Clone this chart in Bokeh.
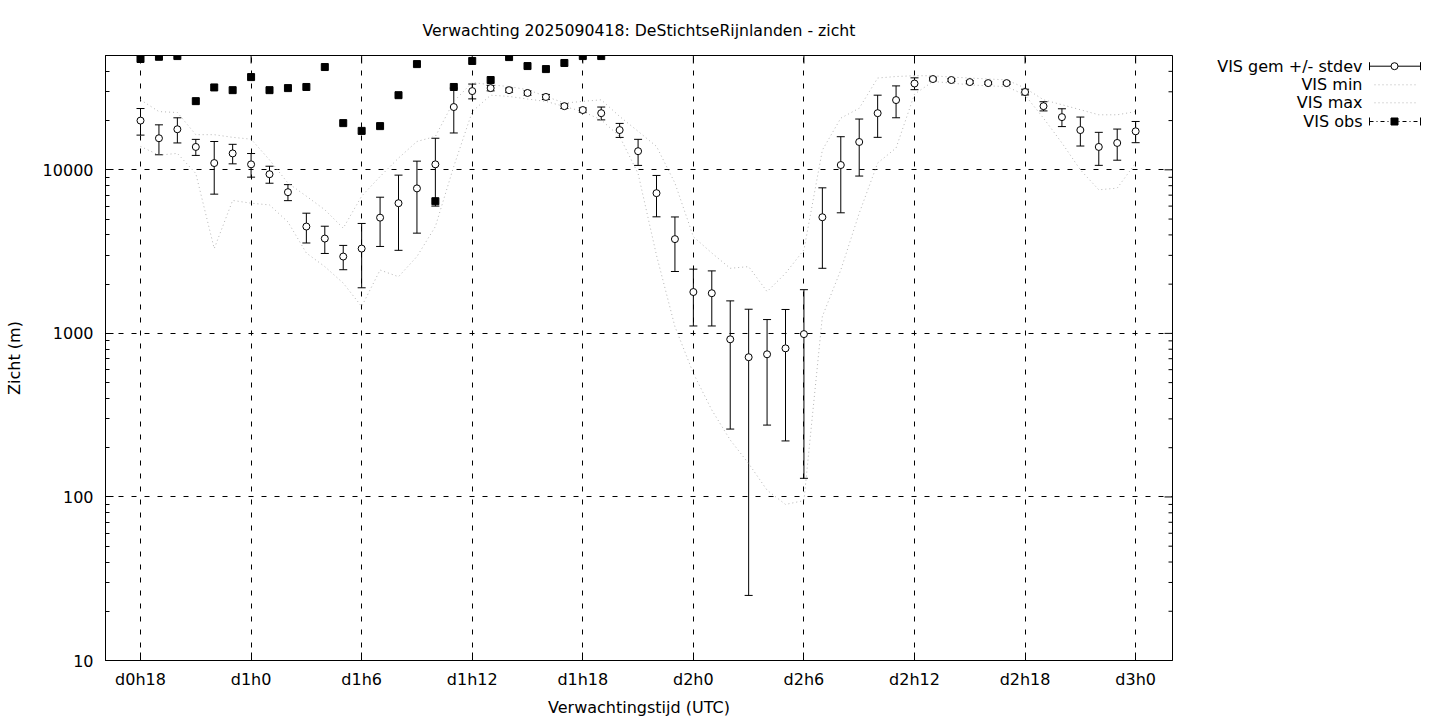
from bokeh.plotting import figure
from bokeh.models import (Range1d, FixedTicker, Whisker, TeeHead,
                          ColumnDataSource, NumeralTickFormatter)
from bokeh.layouts import row
from bokeh.embed import file_html
from bokeh.resources import INLINE
from bokeh.core.properties import value

FONT = "DejaVu Sans"
FS = "16px"

# ---------------- data ----------------
hours = list(range(18, 73))  # hours since d0h0
vis_mean = [20000, 15600, 17700, 13800, 11000, 12600, 10800, 9400, 7300, 4500,
            3800, 2950, 3300, 5100, 6250, 7700, 10800, 24200, 30300, 31600,
            30700, 29500, 27900, 24500, 23200, 22200, 17500, 13000, 7200, 3770,
            1790, 1760, 920, 715, 745, 810, 990, 5130, 10700, 14800,
            22200, 26700, 33700, 35900, 35400, 34400, 33900, 33900, 29900, 24500,
            21000, 17500, 13800, 14600, 17200]
vis_sd = [3700, 3240, 3100, 1550, 3900, 1720, 1780, 1120, 820, 930,
          720, 500, 1400, 1700, 3030, 3600, 4800, 7400, 3150, 1200,
          900, 900, 1000, 800, 700, 2000, 1720, 2360, 2040, 1380,
          680, 650, 660, 690, 470, 590, 860, 2630, 5240, 5640,
          6400, 5890, 2800, 900, 700, 700, 600, 600, 1200, 1580,
          2620, 3520, 3150, 3150, 2550]
vis_max = [26800, 22700, 22400, 16400, 16400, 15800, 15400, 11500, 8300, 6900,
           5700, 4400, 6900, 9100, 11800, 14900, 16000, 26200, 34200, 33100,
           32300, 30900, 28100, 25600, 26200, 26800, 21200, 17200, 13900, 8300,
           3900, 3100, 2500, 2560, 1800, 2330, 3240, 13200, 20700, 23800,
           36400, 37200, 37600, 37600, 36900, 36400, 35900, 35500, 31600, 26800,
           25000, 23300, 21700, 21700, 22700]
vis_min = [13900, 12300, 12600, 9500, 3300, 6500, 6250, 6100, 4800, 3100,
           2560, 2030, 1460, 2440, 2220, 2950, 4500, 10500, 22700, 28600,
           28100, 27100, 26200, 24400, 22700, 20200, 16000, 9500, 3000, 1100,
           570, 340, 223, 160, 110, 90, 95, 1270, 2440, 5430,
           11000, 13600, 29000, 34700, 33900, 33100, 32600, 32300, 28600, 20700,
           14600, 10000, 7550, 7730, 11000]
obs_hours = list(range(18, 44))
vis_obs = [47600, 49100, 49600, 26300, 31900, 30700, 36900, 30700, 31600, 32100,
           42500, 19300, 17300, 18500, 28600, 44300, 6430, 32100, 46300, 35400,
           48900, 43100, 41300, 45000, 49600, 49600]

tick_hours = [18, 24, 30, 36, 42, 48, 54, 60, 66, 72]
tick_labels = ["d0h18", "d1h0", "d1h6", "d1h12", "d1h18", "d2h0", "d2h6", "d2h12", "d2h18", "d3h0"]
y_ticks = [10, 100, 1000, 10000]
y_minor = [m * d for d in (10, 100, 1000, 10000) for m in range(2, 10)]

legend_labels = ["VIS gem +/- stdev", "VIS min", "VIS max", "VIS obs"]

X0, X1 = 16.1, 74
Y0, Y1 = 10, 50000

BT, BB = 55, 60      # top / bottom borders
H = 720
GRAY = "#b4b4b4"

# ---------------- main figure ----------------
p = figure(width=1188, height=H, y_axis_type="log",
           x_range=Range1d(X0, X1), y_range=Range1d(Y0, Y1),
           output_backend="svg", toolbar_location=None,
           min_border_left=105, min_border_right=16, min_border_top=BT, min_border_bottom=BB,
           title="Verwachting 2025090418: DeStichtseRijnlanden - zicht")
p.title.align = "center"
p.title.text_font = FONT
p.title.text_font_size = "15.7px"
p.title.text_font_style = "normal"
p.title.text_color = "black"
p.title.standoff = 31
p.outline_line_color = "black"
p.outline_line_alpha = 1
p.outline_line_width = 1
p.background_fill_color = "white"
p.border_fill_color = "white"

xticker = FixedTicker(ticks=tick_hours, minor_ticks=[])
yticker = FixedTicker(ticks=y_ticks, minor_ticks=y_minor)

xax = p.xaxis[0]
xax.ticker = xticker
xax.major_label_overrides = {h: l for h, l in zip(tick_hours, tick_labels)}
xax.axis_label = "Verwachtingstijd (UTC)"
yax = p.yaxis[0]
yax.ticker = yticker
yax.formatter = NumeralTickFormatter(format="0")
yax.axis_label = "Zicht (m)"

for ax in (xax, yax):
    ax.major_tick_in = 8
    ax.major_tick_out = 0
    ax.minor_tick_in = 4
    ax.minor_tick_out = 0
    ax.axis_line_color = "black"
    ax.major_tick_line_color = "black"
    ax.minor_tick_line_color = "black"
    ax.major_label_text_font = FONT
    ax.major_label_text_font_size = FS
    ax.major_label_text_color = "black"
    ax.axis_label_text_font = FONT
    ax.axis_label_text_font_size = FS
    ax.axis_label_text_font_style = "normal"
    ax.axis_label_text_color = "black"
xax.major_label_standoff = 9
xax.axis_label_standoff = 6
yax.major_label_standoff = 12
yax.axis_label_standoff = 16

p.xgrid.ticker = xticker
p.ygrid.ticker = yticker
for g in (p.xgrid, p.ygrid):
    g.grid_line_color = "black"
    g.grid_line_dash = "5 8"
    g.grid_line_width = 1
    g.grid_line_alpha = 1

# mirrored ticks on top and right frame edges (drawn inward, screen length)
p.ray(x=tick_hours, y=[Y1] * len(tick_hours), length=8, length_units="screen",
      angle=-90, angle_units="deg", line_color="black", line_width=1)
p.ray(x=[X1] * len(y_ticks), y=y_ticks, length=8, length_units="screen",
      angle=180, angle_units="deg", line_color="black", line_width=1)
p.ray(x=[X1] * len(y_minor), y=y_minor, length=4, length_units="screen",
      angle=180, angle_units="deg", line_color="black", line_width=1)

# min / max dotted lines
p.line(hours, vis_min, line_color=GRAY, line_dash="1 3", line_width=1)
p.line(hours, vis_max, line_color=GRAY, line_dash="1 3", line_width=1)

# mean +/- stdev error bars
src = ColumnDataSource(dict(
    x=hours,
    upper=[m + s for m, s in zip(vis_mean, vis_sd)],
    lower=[m - s for m, s in zip(vis_mean, vis_sd)],
))
wh = Whisker(base="x", upper="upper", lower="lower", source=src,
             line_color="black", line_width=1,
             upper_head=TeeHead(size=8, line_color="black", line_width=1),
             lower_head=TeeHead(size=8, line_color="black", line_width=1))
p.add_layout(wh)

# observations
p.scatter(obs_hours, vis_obs, marker="square", size=7, fill_color="black", line_color="black")
# mean points
p.scatter(hours, vis_mean, marker="circle", size=7, fill_color="white", line_color="black", line_width=1)

# ---------------- legend figure (gnuplot style: text then sample) ----------------
# frame of this figure is aligned with the main frame; y measured down from the frame top
LW = 244
FH = H - BT - BB
lf = figure(width=LW, height=H, x_range=Range1d(0, LW), y_range=Range1d(FH, 0),
            output_backend="svg", toolbar_location=None,
            min_border_left=0, min_border_right=0, min_border_top=BT, min_border_bottom=BB,
            x_axis_location=None, y_axis_location=None)
lf.grid.visible = False
lf.outline_line_color = None
lf.background_fill_color = "white"
lf.border_fill_color = "white"

ly = [v - BT for v in (65.7, 84.3, 102.3, 121.0)]
tx = 174
lf.text(x=[tx] * 4, y=ly, text=legend_labels, text_align="right", text_baseline="middle",
        text_font=value(FONT), text_font_size=FS, text_color="black")

x0, x1, xc = 181, 232, 206
# mean sample
lf.segment(x0=[x0], y0=[ly[0]], x1=[x1], y1=[ly[0]], line_color="black")
lf.segment(x0=[x0, x1], y0=[ly[0] - 4] * 2, x1=[x0, x1], y1=[ly[0] + 4] * 2, line_color="black")
lf.scatter([xc], [ly[0]], marker="circle", size=7, fill_color="white", line_color="black")
# min / max samples
lf.segment(x0=[186, 186], y0=[ly[1], ly[2]], x1=[230, 230], y1=[ly[1], ly[2]],
           line_color=GRAY, line_dash="1 3")
# obs sample
lf.segment(x0=[x0], y0=[ly[3]], x1=[x1], y1=[ly[3]], line_color="black", line_dash="4 3 1 3")
lf.segment(x0=[x0, x1], y0=[ly[3] - 4] * 2, x1=[x0, x1], y1=[ly[3] + 4] * 2, line_color="black")
lf.scatter([xc], [ly[3]], marker="square", size=7, fill_color="black", line_color="black")

layout = row(p, lf)
open("out.html", "w").write(file_html(layout, INLINE))
